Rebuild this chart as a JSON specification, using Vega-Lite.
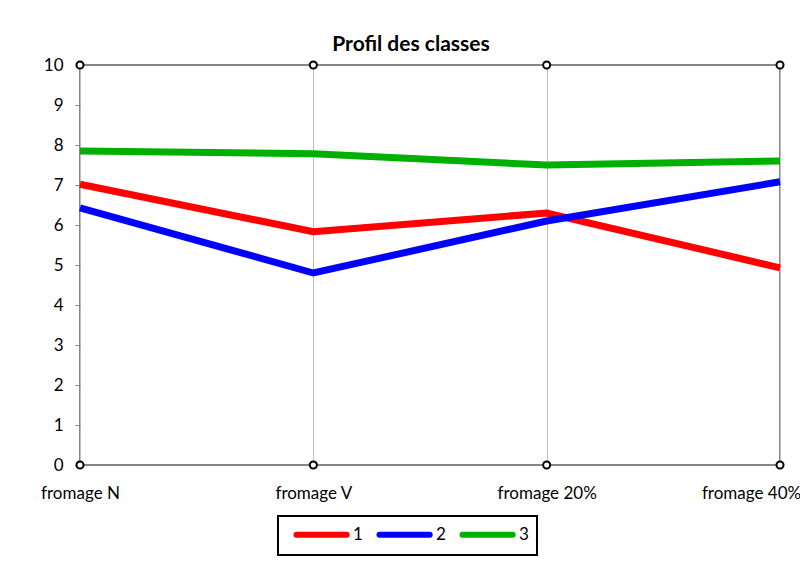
{
  "$schema": "https://vega.github.io/schema/vega-lite/v6.json",
  "width": 700,
  "height": 400,
  "autosize": {"type": "none"},
  "padding": {"left": 80, "top": 65, "right": 20, "bottom": 103},
  "background": "white",
  "title": {"text": "Profil des classes", "font": "Lato", "fontSize": 21, "fontWeight": "bold", "color": "black", "anchor": "middle", "dx": -19, "offset": 1},
  "config": {
    "view": {"stroke": "#868686", "strokeWidth": 2},
    "axis": {"labelFont": "Lato", "labelFontSize": 17, "labelColor": "black", "domainColor": "#868686", "domainWidth": 2, "tickColor": "#868686"}
  },
  "datasets": {
    "series": [
      {"category": "fromage N", "classe": "1", "value": 7.02},
      {"category": "fromage V", "classe": "1", "value": 5.83},
      {"category": "fromage 20%", "classe": "1", "value": 6.3},
      {"category": "fromage 40%", "classe": "1", "value": 4.93},
      {"category": "fromage N", "classe": "2", "value": 6.43},
      {"category": "fromage V", "classe": "2", "value": 4.8},
      {"category": "fromage 20%", "classe": "2", "value": 6.1},
      {"category": "fromage 40%", "classe": "2", "value": 7.08},
      {"category": "fromage N", "classe": "3", "value": 7.85},
      {"category": "fromage V", "classe": "3", "value": 7.78},
      {"category": "fromage 20%", "classe": "3", "value": 7.5},
      {"category": "fromage 40%", "classe": "3", "value": 7.6}
    ],
    "markers": [
      {"category": "fromage N", "value": 0},
      {"category": "fromage V", "value": 0},
      {"category": "fromage 20%", "value": 0},
      {"category": "fromage 40%", "value": 0},
      {"category": "fromage N", "value": 10},
      {"category": "fromage V", "value": 10},
      {"category": "fromage 20%", "value": 10},
      {"category": "fromage 40%", "value": 10}
    ]
  },
  "encoding": {
    "x": {
      "field": "category", "type": "nominal",
      "sort": ["fromage N", "fromage V", "fromage 20%", "fromage 40%"],
      "scale": {"type": "point", "padding": 0},
      "axis": {
        "title": null, "labelAngle": 0, "grid": true, "gridColor": "#BFBFBF", "gridWidth": 1, "ticks": false, "domain": false, "labelPadding": 20,
        "labelOffset": {"expr": "datum.value === 'fromage 40%' ? -29 : 0"}
      }
    },
    "y": {
      "field": "value", "type": "quantitative",
      "scale": {"domain": [0, 10], "nice": false},
      "axis": {"title": null, "grid": false, "values": [0,1,2,3,4,5,6,7,8,9,10], "tickSize": 5, "labelPadding": 12, "domain": false}
    }
  },
  "layer": [
    {
      "data": {"name": "series"},
      "mark": {"type": "line", "strokeWidth": 7, "strokeCap": "butt"},
      "encoding": {
        "color": {
          "field": "classe", "type": "nominal",
          "scale": {"domain": ["1", "2", "3"], "range": ["#FF0000", "#0000FF", "#00B000"]},
          "legend": {
            "title": null, "orient": "none", "legendX": 198, "legendY": 451, "direction": "horizontal",
            "symbolType": "M0,0H7.1", "symbolSize": 200, "symbolStrokeWidth": 6,
            "labelFont": "Lato", "labelFontSize": 17, "labelColor": "black", "labelOffset": 46,
            "columnPadding": 4, "padding": 8, "strokeColor": "black", "cornerRadius": 0, "fillColor": "white",
            "encode": {
              "legend": {"update": {"strokeWidth": {"value": 2}}},
              "symbols": {"update": {"strokeCap": {"value": "round"}}}
            }
          }
        }
      }
    },
    {
      "data": {"name": "markers"},
      "mark": {"type": "point", "shape": "circle", "size": 50, "stroke": "black", "strokeWidth": 2, "fill": "white", "filled": false, "opacity": 1, "clip": false}
    }
  ]
}
